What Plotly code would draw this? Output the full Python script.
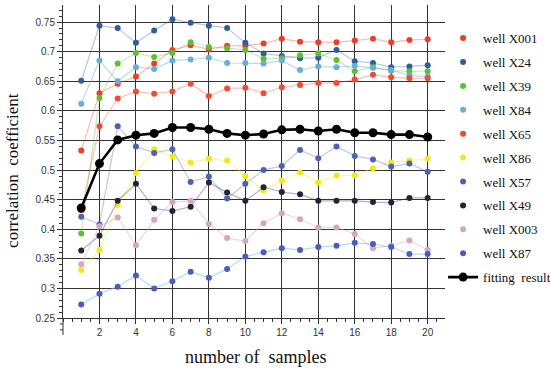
import plotly.graph_objects as go

samples = list(range(1, 21))

well_names = ["well X001", "well X24", "well X39", "well X84", "well X65",
              "well X86", "well X57", "well X49", "well X003", "well X87"]

x001 = [0.533, 0.630, 0.646, 0.658, 0.680, 0.703, 0.711, 0.704, 0.710, 0.710,
        0.714, 0.722, 0.717, 0.716, 0.716, 0.719, 0.722, 0.716, 0.720, 0.721]
x24 = [0.651, 0.744, 0.740, 0.715, 0.736, 0.755, 0.749, 0.744, 0.740, 0.715,
       0.697, 0.693, 0.689, 0.690, 0.703, 0.684, 0.681, 0.674, 0.675, 0.677]
x39 = [0.393, 0.622, 0.680, 0.698, 0.691, 0.698, 0.716, 0.708, 0.706, 0.703,
       0.688, 0.689, 0.694, 0.697, 0.686, 0.667, 0.674, 0.668, 0.667, 0.667]
x84 = [0.612, 0.685, 0.650, 0.674, 0.671, 0.685, 0.687, 0.690, 0.681, 0.681,
       0.680, 0.685, 0.669, 0.675, 0.674, 0.676, 0.673, 0.669, 0.660, 0.658]
x65 = [0.432, 0.574, 0.621, 0.633, 0.629, 0.633, 0.646, 0.625, 0.638, 0.639,
       0.630, 0.640, 0.644, 0.647, 0.647, 0.653, 0.661, 0.657, 0.655, 0.655]
x86 = [0.331, 0.365, 0.441, 0.495, 0.535, 0.523, 0.513, 0.519, 0.516, 0.490,
       0.466, 0.482, 0.496, 0.479, 0.491, 0.491, 0.503, 0.513, 0.516, 0.519]
x57 = [0.421, 0.408, 0.574, 0.540, 0.529, 0.535, 0.480, 0.489, 0.452, 0.477,
       0.500, 0.507, 0.534, 0.520, 0.540, 0.524, 0.518, 0.506, 0.511, 0.497]
x49 = [0.364, 0.389, 0.448, 0.477, 0.435, 0.431, 0.438, 0.479, 0.462, 0.448,
       0.471, 0.463, 0.459, 0.448, 0.448, 0.448, 0.446, 0.445, 0.453, 0.453]
x003 = [0.341, 0.405, 0.420, 0.373, 0.416, 0.446, 0.448, 0.409, 0.385, 0.380,
        0.410, 0.427, 0.417, 0.403, 0.403, 0.392, 0.368, 0.372, 0.381, 0.365]
x87 = [0.273, 0.291, 0.303, 0.322, 0.300, 0.312, 0.328, 0.318, 0.333, 0.354,
       0.361, 0.368, 0.365, 0.370, 0.372, 0.377, 0.375, 0.370, 0.358, 0.358]
fitting = [0.436, 0.511, 0.551, 0.559, 0.562, 0.572, 0.572, 0.569, 0.562, 0.559,
           0.561, 0.568, 0.569, 0.566, 0.569, 0.563, 0.563, 0.560, 0.560, 0.556]

well_values = [x001, x24, x39, x84, x65, x86, x57, x49, x003, x87]

marker_colors = ["#f03c28", "#2f5e9e", "#5ec030", "#6aaed6", "#f44a30",
                 "#f0e818", "#4f62b0", "#22223a", "#d4a6c0", "#4a5cc0"]
line_colors = ["rgba(240,60,40,0.35)", "rgba(47,94,158,0.35)", "rgba(94,192,48,0.35)",
               "rgba(106,174,214,0.45)", "rgba(244,74,48,0.35)", "rgba(240,232,24,0.4)",
               "rgba(79,98,176,0.35)", "rgba(34,34,58,0.35)", "rgba(212,166,192,0.45)",
               "rgba(140,190,230,0.6)"]

x_ticks = list(range(2, 21, 2))

fig = go.Figure()
for name, vals, mc, lc in zip(well_names, well_values, marker_colors, line_colors):
    # connecting line (not in legend)
    fig.add_trace(go.Scatter(
        x=samples, y=vals, name=name, mode="lines",
        line=dict(color=lc, width=1.2),
        legendgroup=name, showlegend=False, hoverinfo="skip",
    ))
    # markers (legend shows a plain dot)
    fig.add_trace(go.Scatter(
        x=samples, y=vals, name=name, mode="markers",
        marker=dict(color=mc, size=6),
        legendgroup=name,
    ))

fig.add_trace(go.Scatter(
    x=samples, y=fitting, name="fitting  result", mode="lines+markers",
    line=dict(color="black", width=2.6),
    marker=dict(color="black", size=9),
    legendgroup="fitting",
))

axis_color = "#333333"
tick_font = dict(family="Liberation Sans, Arial, sans-serif", size=10, color="#333")
serif = "Liberation Serif, Times New Roman, serif"

fig.update_layout(
    width=550, height=369,
    margin=dict(l=63, r=105, t=5, b=51, autoexpand=False),
    paper_bgcolor="white", plot_bgcolor="white",
    showlegend=True,
    legend=dict(
        x=0.995, xanchor="left", y=0.942, yanchor="top",
        font=dict(family=serif, size=13, color="#111"),
        traceorder="grouped", tracegroupgap=4,
        bgcolor="rgba(0,0,0,0)", itemwidth=30,
    ),
    xaxis=dict(
        range=[0, 20.95], tickmode="array", tickvals=x_ticks,
        ticktext=[str(v) for v in x_ticks],
        showgrid=True, gridcolor=axis_color, gridwidth=1,
        showline=True, linecolor=axis_color, linewidth=1,
        ticks="outside", ticklen=5, tickcolor=axis_color, tickfont=tick_font,
        minor=dict(tickmode="linear", tick0=0, dtick=0.5, ticks="outside",
                   ticklen=3, tickcolor=axis_color, showgrid=False),
        zeroline=False, automargin=False,
    ),
    yaxis=dict(
        range=[0.25, 0.779], tickmode="linear", tick0=0.25, dtick=0.05,
        showgrid=True, gridcolor=axis_color, gridwidth=1,
        showline=True, linecolor=axis_color, linewidth=1,
        ticks="outside", ticklen=5, tickcolor=axis_color, tickfont=tick_font,
        minor=dict(tickmode="linear", tick0=0.25, dtick=0.01, ticks="outside",
                   ticklen=3, tickcolor=axis_color, showgrid=False),
        zeroline=False, automargin=False,
    ),
    annotations=[
        dict(text="number of&nbsp; samples", xref="paper", yref="paper",
             x=0.505, y=-0.125, xanchor="center", yanchor="middle", showarrow=False,
             font=dict(family=serif, size=18, color="#111")),
        dict(text="correlation&nbsp; coefficient", xref="paper", yref="paper",
             x=-0.131, y=0.473, xanchor="center", yanchor="middle", showarrow=False,
             textangle=-90, font=dict(family=serif, size=17, color="#111")),
    ],
    shapes=[
        dict(type="line", xref="paper", yref="paper", x0=0, x1=0, y0=0, y1=-0.054,
             line=dict(color=axis_color, width=1)),
        dict(type="line", xref="paper", yref="paper", x0=-0.008, x1=0, y0=-0.019, y1=-0.019,
             line=dict(color=axis_color, width=1)),
        dict(type="line", xref="paper", yref="paper", x0=-0.008, x1=0, y0=-0.038, y1=-0.038,
             line=dict(color=axis_color, width=1)),
    ],
)

fig.write_html("out.html", config={"displayModeBar": False},
               post_script="document.body.style.margin='0';document.body.style.padding='0';")
